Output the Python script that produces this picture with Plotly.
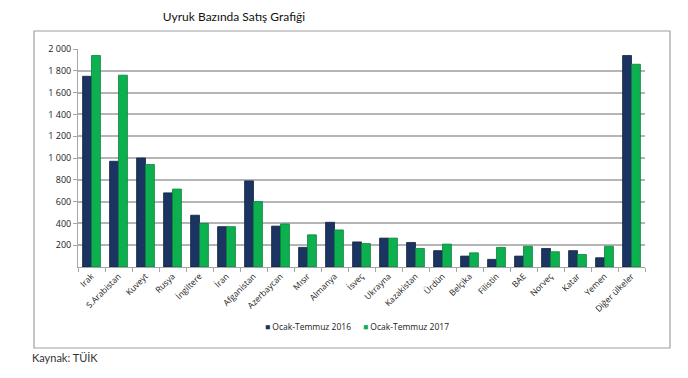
import plotly.graph_objects as go

categories = ["Irak", "S.Arabistan", "Kuveyt", "Rusya", "İngiltere", "İran", "Afganistan",
              "Azerbaycan", "Mısır", "Almanya", "İsveç", "Ukrayna", "Kazakistan", "Ürdün",
              "Belçika", "Filistin", "BAE", "Norveç", "Katar", "Yemen", "Diğer ülkeler"]
sales_2016 = [1750, 970, 1000, 680, 475, 370, 790, 375, 180, 410, 230, 265, 225, 150,
              100, 70, 100, 170, 150, 85, 1940]
sales_2017 = [1940, 1760, 940, 715, 400, 370, 600, 395, 295, 340, 215, 265, 170, 210,
              130, 180, 190, 140, 115, 190, 1860]
series_names = ["Ocak-Temmuz 2016", "Ocak-Temmuz 2017"]
y_tickvals = [200, 400, 600, 800, 1000, 1200, 1400, 1600, 1800, 2000]
y_ticktext = ["200", "400", "600", "800", "1 000", "1 200", "1 400", "1 600", "1 800", "2 000"]

navy = "#1b3461"
green = "#0db04f"
colors = [navy, green]

L, R, T, B = 78, 43, 49, 111
W, H = 688, 378
pw, ph = W - L - R, H - T - B


def px(x):
    return (x - L) / pw


def py(y):
    return (H - B - y) / ph


fig = go.Figure()
fig.add_trace(go.Bar(x=categories, y=sales_2016, name=series_names[0],
                     marker=dict(color=navy, line=dict(color="#10233f", width=0.8))))
fig.add_trace(go.Bar(x=categories, y=sales_2017, name=series_names[1],
                     marker=dict(color=green, line=dict(color="#07843a", width=0.8))))

fig.update_layout(
    width=W, height=H,
    margin=dict(l=L, r=R, t=T, b=B, autoexpand=False),
    paper_bgcolor="white", plot_bgcolor="white",
    barmode="group", bargap=0.34, bargroupgap=0.0,
    font=dict(family="Liberation Sans", size=9, color="#222222"),
    showlegend=False,
    title=dict(text="Uyruk Bazında Satış Grafiği", x=234 / W, xanchor="center", y=1 - 17 / H,
               yanchor="middle", font=dict(family="Lato", size=12, color="#111111")),
)
fig.update_xaxes(type="category", tickangle=-45, showgrid=False, showline=True,
                 linecolor="#a6a6a6", linewidth=1, ticks="outside", tickson="boundaries",
                 ticklen=4, tickcolor="#a6a6a6", automargin=False,
                 tickfont=dict(size=8.5, family="Open Sans", color="#222222"))
fig.update_yaxes(range=[0, 2000], tickvals=y_tickvals, ticktext=y_ticktext,
                 showgrid=True, gridcolor="#b5b5b5", gridwidth=1.5, showline=True,
                 linecolor="#a6a6a6", linewidth=1, ticks="outside", ticklen=4,
                 tickcolor="#a6a6a6", automargin=False,
                 tickfont=dict(size=9, family="Open Sans", color="#222222"),
                 zeroline=False)

fig.add_shape(type="rect", xref="paper", yref="paper", x0=px(34), x1=px(670),
              y0=py(348), y1=py(31), line=dict(color="#a0a0a0", width=1.2),
              fillcolor="rgba(0,0,0,0)", layer="below")

# legend built from text markers
legend_x = [263, 361]
for name, col, lx in zip(series_names, colors, legend_x):
    fig.add_annotation(text=f"<span style='color:{col}'>■</span> {name}",
                       xref="paper", yref="paper", x=px(lx), y=py(326),
                       xanchor="left", yanchor="middle", showarrow=False,
                       font=dict(family="Open Sans", size=8.5, color="#222222"))

fig.add_annotation(text="Kaynak: TÜİK", xref="paper", yref="paper",
                   x=px(30), y=py(357), xanchor="left", yanchor="middle",
                   showarrow=False, font=dict(family="Lato", size=11, color="#333333"))

fig.write_html("out.html", config={"displayModeBar": False},
               post_script="document.body.style.margin='0';")
